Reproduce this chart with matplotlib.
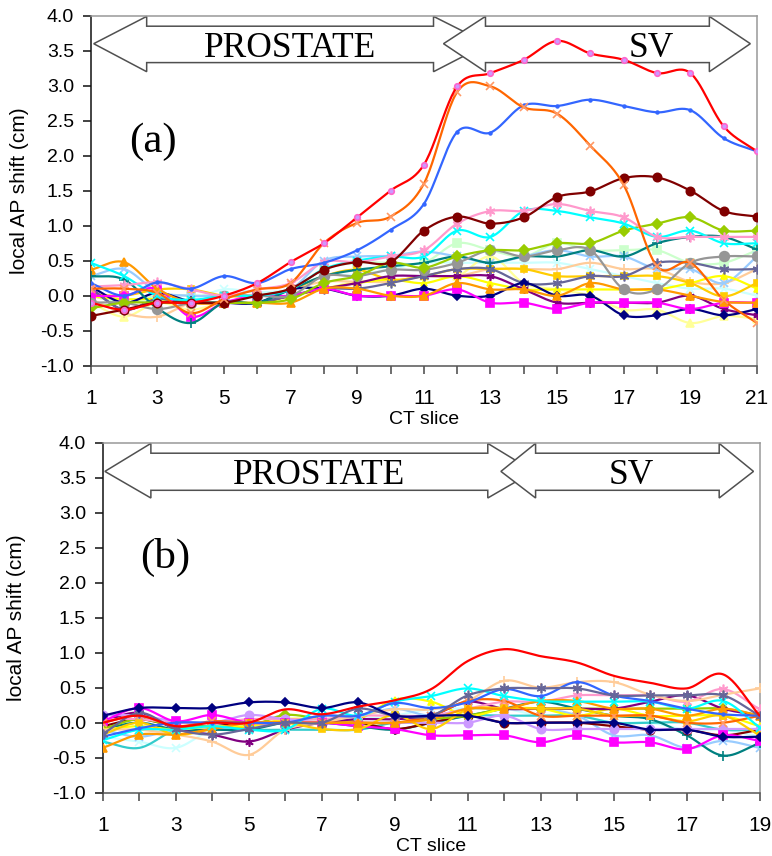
import numpy as np
import matplotlib
matplotlib.use("Agg")
import matplotlib.pyplot as plt
from matplotlib.patches import Polygon

# ---------------- data ----------------
slices_a = list(range(1, 22))
slices_b = list(range(1, 20))

# panel (a): local AP shift (cm) per CT slice, one list per patient series
a_red      = [-0.10,-0.20,-0.10,-0.10, 0.00, 0.18, 0.48, 0.75, 1.12, 1.50, 1.87, 2.99, 3.18, 3.37, 3.64, 3.46, 3.37, 3.18, 3.18, 2.42, 2.06]
a_orange_x = [ 0.10, 0.10, 0.04,-0.25,-0.05, 0.09, 0.18, 0.75, 1.04, 1.13, 1.60, 2.91, 2.99, 2.69, 2.60, 2.14, 1.58, 0.42, 0.47,-0.06,-0.39]
a_blue     = [ 0.18, 0.00, 0.19, 0.10, 0.28, 0.18, 0.38, 0.47, 0.65, 0.94, 1.31, 2.34, 2.33, 2.72, 2.71, 2.80, 2.71, 2.62, 2.65, 2.25, 2.06]
a_maroon   = [-0.29,-0.20,-0.10,-0.10,-0.10, 0.00, 0.10, 0.37, 0.48, 0.48, 0.93, 1.13, 1.03, 1.12, 1.41, 1.49, 1.68, 1.69, 1.50, 1.21, 1.13]
a_pink     = [ 0.13, 0.15, 0.19, 0.09, 0.00, 0.09, 0.18, 0.48, 0.48, 0.56, 0.65, 1.03, 1.21, 1.21, 1.31, 1.21, 1.12, 0.84, 0.84, 0.84, 0.84]
a_cyan     = [ 0.47, 0.28, 0.00,-0.06, 0.00, 0.00, 0.09, 0.38, 0.50, 0.56, 0.56, 0.93, 0.84, 1.21, 1.21, 1.12, 1.03, 0.84, 0.93, 0.75, 0.75]
a_ygreen   = [-0.18,-0.10,-0.10,-0.10,-0.10,-0.10,-0.05, 0.18, 0.28, 0.47, 0.40, 0.56, 0.65, 0.65, 0.75, 0.75, 0.93, 1.03, 1.12, 0.93, 0.93]
a_teal     = [ 0.28, 0.23,-0.18,-0.39,-0.10,-0.10, 0.09, 0.28, 0.37, 0.42, 0.47, 0.56, 0.47, 0.56, 0.56, 0.65, 0.56, 0.75, 0.84, 0.84, 0.66]
a_lgreen   = [ 0.00,-0.10, 0.00, 0.00, 0.00, 0.00, 0.09, 0.38, 0.47, 0.47, 0.47, 0.75, 0.65, 0.56, 0.75, 0.65, 0.65, 0.65, 0.47, 0.47, 0.65]
a_gray     = [-0.10,-0.10,-0.19,-0.10, 0.00, 0.00, 0.00, 0.28, 0.28, 0.37, 0.37, 0.47, 0.65, 0.56, 0.65, 0.65, 0.09, 0.09, 0.47, 0.56, 0.56]
a_lblue    = [ 0.28, 0.38, 0.06, 0.00, 0.00, 0.00, 0.09, 0.50, 0.56, 0.57, 0.63, 0.56, 0.47, 0.56, 0.65, 0.56, 0.56, 0.38, 0.38, 0.18, 0.56]
a_slate    = [ 0.10,-0.20,-0.05,-0.10,-0.10,-0.10, 0.00, 0.10, 0.10, 0.18, 0.28, 0.38, 0.38, 0.18, 0.18, 0.28, 0.28, 0.47, 0.47, 0.38, 0.38]
a_gold     = [ 0.02, 0.00, 0.09, 0.09, 0.00, 0.00, 0.09, 0.28, 0.37, 0.23, 0.28, 0.38, 0.38, 0.38, 0.28, 0.28, 0.28, 0.28, 0.18,-0.01, 0.18]
a_yellow   = [-0.01,-0.05,-0.05,-0.10,-0.10,-0.10,-0.01, 0.10, 0.18, 0.23, 0.18, 0.28, 0.18, 0.09, 0.09, 0.09, 0.09, 0.09, 0.18, 0.28, 0.10]
a_lyellow  = [-0.10,-0.30,-0.10,-0.20,-0.10,-0.10, 0.00, 0.10, 0.20, 0.20, 0.28, 0.28, 0.56, 0.18, 0.09, 0.00,-0.20,-0.20,-0.39,-0.29,-0.33]
a_orange_t = [ 0.37, 0.48, 0.10,-0.10,-0.10,-0.10,-0.10, 0.10, 0.10, 0.00, 0.00, 0.18, 0.09, 0.09, 0.00, 0.18, 0.09, 0.09, 0.00,-0.09,-0.10]
a_navy     = [ 0.13,-0.10, 0.04,-0.08,-0.10,-0.10, 0.09, 0.10, 0.00, 0.00, 0.10, 0.00, 0.00, 0.18, 0.00, 0.00,-0.28,-0.28,-0.19,-0.28,-0.19]
a_magenta  = [ 0.00, 0.00, 0.10,-0.30,-0.10, 0.00, 0.00, 0.10, 0.00, 0.00, 0.00, 0.09,-0.10,-0.10,-0.19,-0.10,-0.10,-0.10,-0.19,-0.10,-0.10]
a_peach    = [-0.05,-0.25,-0.30,-0.10, 0.00, 0.00, 0.09, 0.20, 0.20, 0.20, 0.28, 0.28, 0.38, 0.38, 0.38, 0.47, 0.38, 0.38, 0.20, 0.18, 0.38]
a_purple   = [ 0.10,-0.20,-0.05,-0.10,-0.10,-0.10, 0.00, 0.10, 0.18, 0.28, 0.28, 0.28, 0.28, 0.09,-0.10,-0.10,-0.10,-0.10, 0.00,-0.19,-0.28]
a_lcyan    = [ 0.00,-0.10,-0.05,-0.05, 0.09, 0.05, 0.09, 0.28, 0.30, 0.38, 0.47, 0.47, 0.47, 0.47, 0.47, 0.38, 0.28, 0.18, 0.10, 0.10, 0.00]

# panel (b)
b_red      = [ 0.00, 0.10,-0.05, 0.00, 0.00, 0.19, 0.12, 0.23, 0.32, 0.48, 0.88, 1.05, 0.95, 0.86, 0.67, 0.57, 0.49, 0.69, 0.10]
b_navy     = [ 0.10, 0.21, 0.21, 0.21, 0.29, 0.29, 0.21, 0.29, 0.10, 0.10, 0.10, 0.00, 0.00, 0.00, 0.00,-0.10,-0.10,-0.20,-0.20]
b_peach    = [-0.10,-0.10,-0.17,-0.27,-0.46,-0.10, 0.00, 0.10, 0.19, 0.19, 0.31, 0.60, 0.50, 0.58, 0.58, 0.40, 0.31, 0.40, 0.49]
b_slate    = [-0.16, 0.14,-0.09,-0.17,-0.09, 0.00, 0.00, 0.20, 0.10, 0.10, 0.39, 0.49, 0.49, 0.49, 0.39, 0.39, 0.39, 0.39, 0.10]
b_blue     = [-0.20,-0.08, 0.00, 0.00, 0.00, 0.00, 0.10, 0.10, 0.28, 0.21, 0.29, 0.48, 0.38, 0.58, 0.39, 0.31, 0.20, 0.12, 0.10]
b_cyan     = [-0.25,-0.10,-0.10,-0.05,-0.10,-0.10, 0.20, 0.10, 0.30, 0.38, 0.49, 0.38, 0.31, 0.30, 0.30, 0.30, 0.20, 0.31,-0.07]
b_magenta  = [ 0.02, 0.21, 0.02, 0.11, 0.00, 0.00, 0.00,-0.05,-0.09,-0.18,-0.18,-0.18,-0.28,-0.18,-0.28,-0.28,-0.38,-0.18,-0.26]
b_lavender = [ 0.11, 0.10, 0.02, 0.00, 0.11, 0.05, 0.00, 0.00, 0.00, 0.00, 0.00, 0.10,-0.09,-0.09,-0.09,-0.09,-0.09,-0.09,-0.09]
b_orange_t = [-0.36,-0.17,-0.17,-0.09, 0.00, 0.00, 0.00, 0.00, 0.00, 0.05, 0.20, 0.20, 0.31, 0.31, 0.20, 0.20, 0.10, 0.20, 0.10]
b_gold     = [-0.17, 0.00,-0.17,-0.09, 0.00, 0.00,-0.09,-0.09, 0.11,-0.09, 0.19, 0.21, 0.20, 0.20, 0.10, 0.10, 0.02, 0.10,-0.18]
b_teal     = [-0.09, 0.00,-0.10,-0.10,-0.10, 0.00, 0.00,-0.05,-0.10, 0.00, 0.10, 0.20, 0.30, 0.20, 0.10, 0.05,-0.18,-0.47,-0.29]
b_turq     = [-0.27,-0.36,-0.10,-0.05,-0.10,-0.10,-0.10,-0.10, 0.00, 0.00, 0.10, 0.10, 0.10, 0.10, 0.00, 0.00, 0.00,-0.10,-0.10]
b_lcyan    = [-0.20,-0.27,-0.36,-0.10,-0.05, 0.00, 0.05, 0.05, 0.10, 0.20, 0.20, 0.20, 0.10, 0.10, 0.00, 0.00,-0.10,-0.10,-0.20]
b_orange_x = [ 0.00, 0.10,-0.05, 0.02, 0.00, 0.00, 0.00, 0.00, 0.00, 0.10, 0.31, 0.31, 0.10, 0.10, 0.10, 0.10, 0.00, 0.00, 0.10]
b_yellow   = [-0.10,-0.05,-0.10,-0.05,-0.05, 0.05, 0.05, 0.05, 0.33, 0.30, 0.10, 0.20, 0.20, 0.10, 0.20, 0.10, 0.10, 0.10,-0.05]
b_lblue    = [-0.10,-0.20,-0.10,-0.10,-0.05, 0.00, 0.10, 0.10, 0.20, 0.10, 0.20, 0.20, 0.20, 0.10,-0.18,-0.18,-0.36,-0.26,-0.36]
b_pink     = [ 0.05, 0.05, 0.00, 0.00, 0.05, 0.05, 0.05, 0.10, 0.10, 0.10, 0.20, 0.30, 0.30, 0.39, 0.39, 0.39, 0.30, 0.48, 0.19]
b_maroon   = [-0.05, 0.05,-0.05,-0.05, 0.00, 0.00, 0.00, 0.00,-0.09, 0.00, 0.10, 0.00, 0.00, 0.00,-0.05,-0.10,-0.10,-0.18,-0.10]
b_ygreen   = [-0.09, 0.05,-0.05,-0.05,-0.05, 0.11, 0.05, 0.00, 0.00, 0.05, 0.10, 0.20, 0.20, 0.20, 0.20, 0.20, 0.20, 0.20, 0.10]
b_purple   = [ 0.02, 0.14,-0.09,-0.17,-0.27,-0.10, 0.00, 0.05, 0.05, 0.10, 0.30, 0.20, 0.20, 0.20, 0.20, 0.30, 0.39, 0.20, 0.10]

x_tick_labels_a = [str(v) if v % 2 == 1 else "" for v in slices_a]
x_tick_labels_b = [str(v) if v % 2 == 1 else "" for v in slices_b]
y_ticks = [-1.0, -0.5, 0.0, 0.5, 1.0, 1.5, 2.0, 2.5, 3.0, 3.5, 4.0]

# ---------------- styles ----------------
AST = (6, 2, 0)
# (color, marker, markerface, markeredge, markersize)
sty = {
    'lcyan':    ('#CCFFFF', 'x', None, None, 6),
    'lyellow':  ('#FFFF99', '^', None, None, 6),
    'peach':    ('#FFCC99', '+', None, None, 7),
    'lgreen':   ('#CCFFCC', 's', None, None, 6),
    'lblue':    ('#99CCFF', 'x', None, None, 6),
    'yellow':   ('#FFFF00', '^', None, None, 5),
    'gold':     ('#FFCC00', 's', None, None, 5),
    'purple':   ('#800080', AST, None, None, 6),
    'slate':    ('#666699', AST, None, None, 7),
    'navy':     ('#000080', 'D', None, None, 4),
    'magenta':  ('#FF00FF', 's', None, None, 6),
    'orange_t': ('#FF9900', '^', None, None, 6),
    'teal':     ('#008080', '+', None, None, 7),
    'gray':     ('#969696', 'o', None, None, 7),
    'ygreen':   ('#99CC00', 'D', None, None, 5),
    'cyan':     ('#00FFFF', 'x', None, None, 6),
    'pink':     ('#FF99CC', AST, None, None, 7),
    'maroon':   ('#800000', 'o', None, None, 6),
    'blue':     ('#3366FF', '.', None, None, 4),
    'orange_x': ('#FF6600', 'x', None, '#FF9966', 6),
    'red':      ('#FF0000', 'o', '#CC99FF', '#FF66CC', 4),
    'red_plain':('#FF0000', '', None, None, 4),
    'lavender': ('#CC99FF', 'o', None, None, 6),
    'turq':     ('#33CCCC', '', None, None, 5),
}

series_a = [('lcyan', a_lcyan), ('lyellow', a_lyellow), ('peach', a_peach), ('lgreen', a_lgreen),
            ('lblue', a_lblue), ('yellow', a_yellow), ('gold', a_gold), ('purple', a_purple),
            ('slate', a_slate), ('navy', a_navy), ('magenta', a_magenta), ('orange_t', a_orange_t),
            ('teal', a_teal), ('gray', a_gray), ('ygreen', a_ygreen), ('cyan', a_cyan),
            ('pink', a_pink), ('maroon', a_maroon), ('blue', a_blue), ('orange_x', a_orange_x),
            ('red', a_red)]
series_b = [('lcyan', b_lcyan), ('turq', b_turq), ('lblue', b_lblue), ('teal', b_teal),
            ('maroon', b_maroon), ('ygreen', b_ygreen), ('yellow', b_yellow), ('purple', b_purple),
            ('pink', b_pink), ('peach', b_peach), ('lavender', b_lavender), ('magenta', b_magenta),
            ('gold', b_gold), ('orange_x', b_orange_x), ('orange_t', b_orange_t), ('cyan', b_cyan),
            ('blue', b_blue), ('slate', b_slate), ('navy', b_navy), ('red_plain', b_red)]


def smooth(xs, ys, n=24):
    xs = np.asarray(xs, float)
    ys = np.asarray(ys, float)
    m = np.zeros_like(ys)
    m[1:-1] = (ys[2:] - ys[:-2]) / 2.0
    m[0] = ys[1] - ys[0]
    m[-1] = ys[-1] - ys[-2]
    ox, oy = [], []
    t = np.linspace(0, 1, n, endpoint=False)
    h00 = 2 * t**3 - 3 * t**2 + 1
    h10 = t**3 - 2 * t**2 + t
    h01 = -2 * t**3 + 3 * t**2
    h11 = t**3 - t**2
    for i in range(len(xs) - 1):
        ox.append(xs[i] + t * (xs[i + 1] - xs[i]))
        oy.append(h00 * ys[i] + h10 * m[i] + h01 * ys[i + 1] + h11 * m[i + 1])
    ox.append([xs[-1]])
    oy.append([ys[-1]])
    return np.concatenate(ox), np.concatenate(oy)


def double_arrow(ax, x0, xh1, xh2, x1, ymid, yb_top, yb_bot, yh_top, yh_bot):
    pts = [(x0, ymid), (xh1, yh_top), (xh1, yb_top), (xh2, yb_top), (xh2, yh_top),
           (x1, ymid), (xh2, yh_bot), (xh2, yb_bot), (xh1, yb_bot), (xh1, yh_bot)]
    ax.add_patch(Polygon(pts, closed=True, facecolor='white', edgecolor='#505050',
                         linewidth=1.1, zorder=1, clip_on=False))


SANS = ['Liberation Sans', 'DejaVu Sans']
SERIF = ['Liberation Serif', 'DejaVu Serif']

fig = plt.figure(figsize=(7.72, 8.56), dpi=100)
W, H = 772.0, 856.0


def make_axes(px_left, px_right, px_top, px_bottom):
    return fig.add_axes([px_left / W, 1 - px_bottom / H, (px_right - px_left) / W,
                         (px_bottom - px_top) / H])


def style_axes(ax, slices, labels, ylab_x):
    ax.set_xlim(slices[0], slices[-1])
    ax.set_ylim(-1.0, 4.0)
    ax.set_xticks(slices)
    ax.set_xticklabels(labels, fontfamily=SANS, fontsize=15)
    ax.set_yticks(y_ticks)
    ax.set_yticklabels([f"{v:.1f}" for v in y_ticks], fontfamily=SANS, fontsize=14)
    ax.tick_params(axis='x', direction='out', length=6, width=1.2, color='#555555', pad=11)
    ax.tick_params(axis='y', direction='out', length=6, width=1.2, color='#222222', pad=6)
    ax.spines['left'].set_color('#111111')
    ax.spines['bottom'].set_color('#555555')
    ax.spines['top'].set_color('#999999')
    ax.spines['right'].set_color('#999999')
    for s in ax.spines.values():
        s.set_linewidth(1.1)
    ax.set_xlabel('CT slice', fontfamily=SANS, fontsize=14)
    ax.set_ylabel('local AP shift (cm)', fontfamily=SANS, fontsize=15)
    ax.xaxis.set_label_coords(0.5, -0.13)
    ax.yaxis.set_label_coords(ylab_x, 0.5)


def draw_series(ax, slices, series):
    for k, (name, vals) in enumerate(series):
        c, mk, mfc, mec, ms = sty[name]
        sx, sy = smooth(slices, vals)
        ax.plot(sx, sy, color=c, lw=1.6, zorder=3 + k * 0.01, solid_capstyle='round')
        if mk:
            ax.plot(slices, vals, linestyle='none', marker=mk, ms=ms,
                    markerfacecolor=mfc if mfc else c,
                    markeredgecolor=mec if mec else c, markeredgewidth=1.2,
                    zorder=3 + k * 0.01)


# ---------------- panel (a) ----------------
axa = make_axes(90.7, 757.0, 15.7, 365.7)
style_axes(axa, slices_a, x_tick_labels_a, -0.093)
double_arrow(axa, 1.09, 2.68, 11.29, 12.92, 3.60, 3.85, 3.33, 3.99, 3.20)
double_arrow(axa, 11.59, 12.85, 19.57, 20.80, 3.60, 3.85, 3.33, 3.99, 3.20)
axa.text(6.99, 3.415, 'PROSTATE', fontfamily=SERIF, fontsize=25.5, ha='center', va='baseline', zorder=2)
axa.text(17.84, 3.415, 'SV', fontfamily=SERIF, fontsize=25.5, ha='center', va='baseline', zorder=2)
axa.text(2.88, 2.05, '(a)', fontfamily=SERIF, fontsize=31, ha='center', va='baseline', zorder=2)
draw_series(axa, slices_a, series_a)

# ---------------- panel (b) ----------------
axb = make_axes(102.7, 759.7, 442.7, 792.7)
style_axes(axb, slices_b, x_tick_labels_b, -0.116)
double_arrow(axb, 1.06, 2.32, 11.55, 12.81, 3.59, 3.85, 3.32, 3.99, 3.21)
double_arrow(axb, 11.91, 12.86, 17.89, 18.83, 3.59, 3.85, 3.32, 3.99, 3.21)
axb.text(6.93, 3.41, 'PROSTATE', fontfamily=SERIF, fontsize=25.5, ha='center', va='baseline', zorder=2)
axb.text(15.49, 3.41, 'SV', fontfamily=SERIF, fontsize=25.5, ha='center', va='baseline', zorder=2)
axb.text(2.70, 2.21, '(b)', fontfamily=SERIF, fontsize=31, ha='center', va='baseline', zorder=2)
draw_series(axb, slices_b, series_b)

fig.savefig('out.png', dpi=100)
